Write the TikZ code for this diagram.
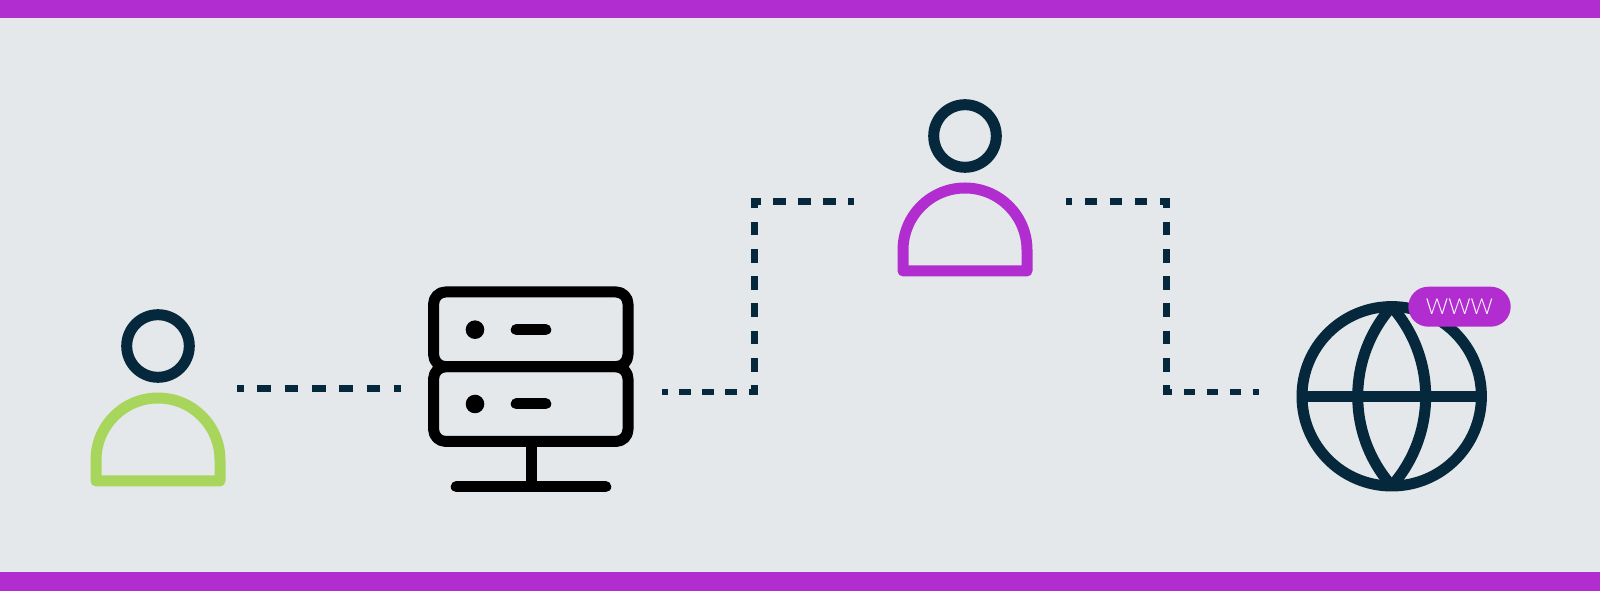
\documentclass[tikz,border=0pt]{standalone}
\usepackage{fontspec}
\usepackage{xcolor}
\usepackage{tikz}
\usetikzlibrary{shapes.misc}
\newfontfamily\wwwfont[UprightFont=* Light]{Lato}
\definecolor{wwback}{RGB}{228,232,234}
\definecolor{wwnavy}{RGB}{5,40,60}
\definecolor{wwpurple}{RGB}{178,45,207}
\definecolor{wwgreen}{RGB}{168,214,92}
\tikzset{
  stroke/.style={line width=11pt, line join=round},
  link/.style={
    draw=wwnavy, line width=6.7pt,
    dash pattern=on #1pt off #1pt, dash phase=#1pt/2
  },
  corner/.style={shorten >=-3.35pt},
  unit/.style={
    draw=black, stroke, rectangle, rounded corners=12pt, outer sep=0pt,
    minimum width=194.4pt, minimum height=74.7pt, inner sep=0pt
  },
  lamp/.style={circle, fill=black, minimum size=18.6pt, inner sep=0pt},
  slot/.style={draw=black, stroke, line cap=round},
  pill/.style={
    rounded rectangle, fill=wwpurple, text=white, inner sep=0pt,
    minimum width=102.4pt, minimum height=40pt,
    font=\fontsize{22}{24}\wwwfont
  },
  pics/person/.style={
    code={
      \draw[wwnavy, stroke] (0,0) circle (31.3);
      \draw[#1, stroke] (-62,-135) -- (-62,-114) arc[start angle=180, end angle=0, radius=62]
        -- (62,-135) -- cycle;
    }
  }
}
\begin{document}
\begin{tikzpicture}[x=1pt, y=1pt]
  \useasboundingbox (0,0) rectangle (1600,591);
  \fill[wwback] (0,0) rectangle (1600,591);
  \fill[wwpurple] (0,572.5) rectangle (1600,591);
  \fill[wwpurple] (0,0) rectangle (1600,18.5);

  % people
  \pic (sender) at (158,245) {person=wwgreen};
  \pic (proxy) at (965,455) {person=wwpurple};

  % server
  \node[unit] (rackup) at (530.8,261.7) {};
  \node[unit] (racklow) at (530.8,186.9) {};
  \node[lamp] (lampup) at (475,261.3) {};
  \node[lamp] (lamplow) at (475,187) {};
  \coordinate (slotup) at (516.2,261.3);
  \coordinate (slotlow) at (516.2,187);
  \draw[slot] (slotup) -- ++(29.6,0);
  \draw[slot] (slotlow) -- ++(29.6,0);
  \coordinate (foot) at (531,104.3);
  \draw[draw=black, stroke] (foot |- racklow.south) -- (foot);
  \draw[slot] ([xshift=-74.8pt]foot) -- ([xshift=74.8pt]foot);

  % globe
  \node[draw=wwnavy, stroke, circle, minimum size=179.4pt, inner sep=0pt, outer sep=0pt] (globe)
    at (1391.7,194.7) {};
  \draw[wwnavy, stroke] (globe.west) -- (globe.east);
  \draw[wwnavy, stroke] (globe.north) .. controls +(-45.3,-51.4) and +(-45.3,51.4) .. (globe.south);
  \draw[wwnavy, stroke] (globe.north) .. controls +(45.3,-51.4) and +(45.3,51.4) .. (globe.south);
  \node[pill] (www) at (1459.5,284.3) {WWW};

  % connectors
  \coordinate (a0) at (237,202.3);
  \coordinate (a1) at (400.7,202.3);
  \draw[link=13.64] (a0) -- (a1);

  \coordinate (b0) at (662,199);
  \coordinate (b1) at (754.3,199);
  \coordinate (b2) at (754.3,389.7);
  \coordinate (b3) at (854.3,389.7);
  \draw[link=11.54, corner] (b0) -- (b1);
  \draw[link=13.62, corner] (b1) -- (b2);
  \draw[link=12.5] (b2) -- (b3);

  \coordinate (c0) at (1066,389.7);
  \coordinate (c1) at (1166.2,389.7);
  \coordinate (c2) at (1166.2,199);
  \coordinate (c3) at (1258.6,199);
  \draw[link=12.5, corner] (c0) -- (c1);
  \draw[link=13.62, corner] (c1) -- (c2);
  \draw[link=11.54] (c2) -- (c3);
\end{tikzpicture}
\end{document}
